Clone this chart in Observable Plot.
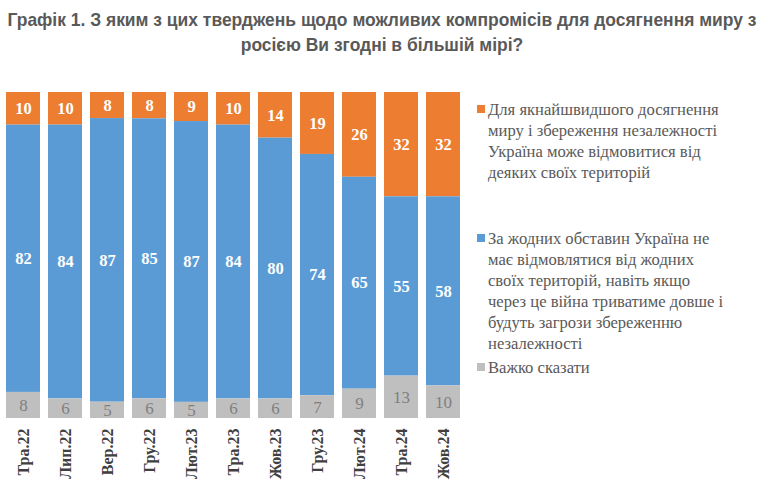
<!DOCTYPE html>
<html>
<head>
<meta charset="utf-8">
<script src="https://cdn.jsdelivr.net/npm/d3@7"></script>
<script src="https://cdn.jsdelivr.net/npm/@observablehq/plot@0.6"></script>
<style>
  body { margin: 0; background: #fff; }
  #wrap { position: relative; width: 764px; height: 487px; overflow: hidden; }
  #title { position: absolute; top: 7px; left: -200px; width: 1164px; text-align: center;
    font-family: "Liberation Sans Narrow", "Liberation Sans", Arial, sans-serif;
    font-weight: bold; font-size: 19px; line-height: 25px; color: #595959;
    white-space: nowrap; transform-origin: 582px 0; }
  #title span { display: inline-block; }
  #chart { position: absolute; top: 75px; left: 0; }
  .leg { position: absolute; left: 477px; font-family: "Liberation Serif", "Times New Roman", serif; font-size: 16.6px;
    line-height: 21px; color: #595959; white-space: nowrap; }
  .sw { position: absolute; left: 0; top: 6px; width: 8px; height: 8px; }
  .lt { position: absolute; left: 11px; top: 0; }
</style>
</head>
<body>
<div id="wrap">
  <div id="title"></div>
  <div id="chart"></div>
  <div id="legend"></div>
</div>
<script>
const titleLines = ["Графік 1. З яким з цих тверджень щодо можливих компромісів для досягнення миру з", "росією Ви згодні в більшій мірі?"];
const months = ["Тра.22","Лип.22","Вер.22","Гру.22","Лют.23","Тра.23","Жов.23","Гру.23","Лют.24","Тра.24","Жов.24"];
const keys = ["concede", "never", "hard"];
const seriesNames = [
  "Для якнайшвидшого досягнення миру і збереження незалежності Україна може відмовитися від деяких своїх територій",
  "За жодних обставин Україна не має відмовлятися від жодних своїх територій, навіть якщо через це війна триватиме довше і будуть загрози збереженню незалежності",
  "Важко сказати"
];
const legendLines = [
  ["Для якнайшвидшого досягнення", "миру і збереження незалежності", "Україна може відмовитися від", "деяких своїх територій"],
  ["За жодних обставин Україна не", "має відмовлятися від жодних", "своїх територій, навіть якщо", "через це війна триватиме довше і", "будуть загрози збереженню", "незалежності"],
  ["Важко сказати"]
];
const concede = [10,10,8,8,9,10,14,19,26,32,32];
const never   = [82,84,87,85,87,84,80,74,65,55,58];
const hard    = [8,6,5,6,5,6,6,7,9,13,10];
const colors = ["#ED7D31", "#5B9BD5", "#BFBFBF"];

// Title: condensed look by horizontal scaling to the reference's width
const titleEl = document.getElementById("title");
titleEl.innerHTML = titleLines.map(t => `<span>${t}</span>`).join("<br>");
const firstW = titleEl.querySelector("span").getBoundingClientRect().width;
titleEl.style.transform = `scaleX(${Math.min(1, 749 / firstW)})`;

const seriesValues = {concede, never, hard};
const rows = [];
months.forEach((m, i) => {
  keys.forEach(k => rows.push({month: m, key: k, value: seriesValues[k][i]}));
});
const order = ["hard", "never", "concede"];
const stackOpts = {x: "month", y: "value", z: "key", order, offset: "normalize"};
const serif = "Liberation Serif, Times New Roman, serif";

const chart = Plot.plot({
  width: 465,
  height: 412,
  marginTop: 17,
  marginBottom: 69,
  marginLeft: 0,
  marginRight: 0,
  x: {domain: months, paddingInner: 0.2, paddingOuter: 0.05, label: null},
  y: {domain: [0, 1], axis: null},
  color: {domain: keys, range: colors},
  marks: [
    Plot.barY(rows, Plot.stackY({...stackOpts, fill: "key"})),
    Plot.text(rows, Plot.stackY({...stackOpts,
      text: d => d.key === "hard" ? "" : String(d.value),
      fill: "white", fontWeight: "bold", fontSize: 16.5, fontFamily: serif})),
    Plot.text(rows, Plot.stackY({...stackOpts,
      text: d => d.key === "hard" ? String(d.value) : "",
      fill: "#7F7F7F", fontSize: 17, fontFamily: serif})),
    Plot.axisX({tickRotate: -90, tickSize: 0, tickPadding: 10, fontSize: 16, fontWeight: "bold",
      fontFamily: serif, fill: "#404040", label: null})
  ]
});
document.getElementById("chart").appendChild(chart);

const legTops = [99, 228, 357];
const legend = document.getElementById("legend");
legendLines.forEach((lines, i) => {
  const d = document.createElement("div");
  d.className = "leg";
  d.style.top = legTops[i] + "px";
  d.title = seriesNames[i];
  d.innerHTML = `<div class="sw" style="background:${colors[i]}"></div><div class="lt">${lines.join("<br>")}</div>`;
  legend.appendChild(d);
});
</script>
</body>
</html>
